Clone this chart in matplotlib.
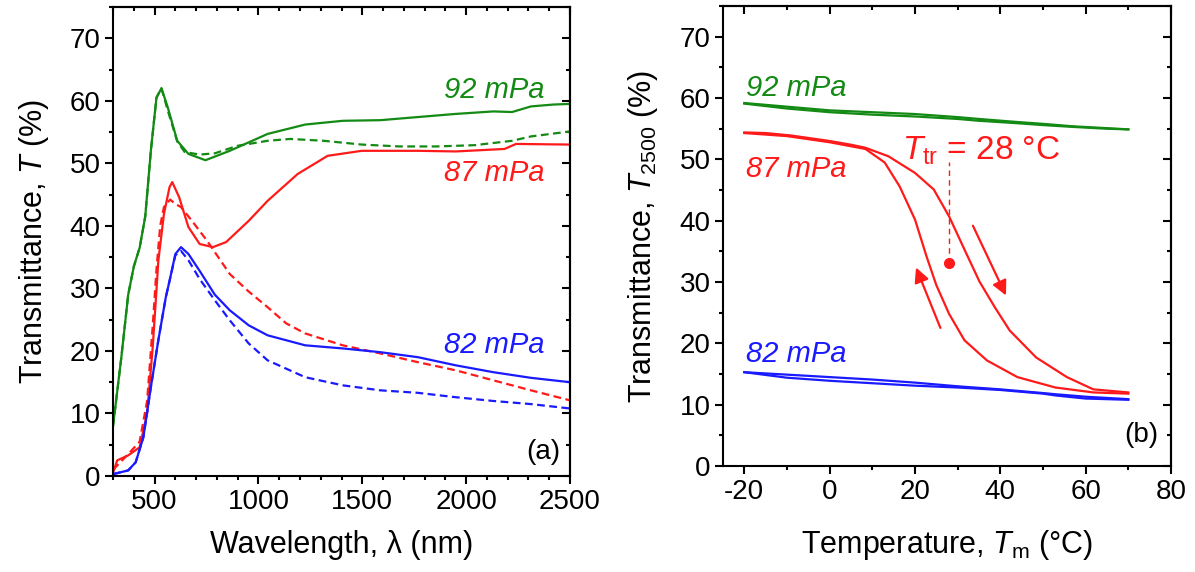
import matplotlib
matplotlib.use('Agg')
import matplotlib.pyplot as plt
from matplotlib.ticker import MultipleLocator

plt.rcParams['font.family'] = ['Liberation Sans', 'DejaVu Sans']
plt.rcParams['mathtext.fontset'] = 'custom'
plt.rcParams['mathtext.rm'] = 'Liberation Sans'
plt.rcParams['mathtext.it'] = 'Liberation Sans:italic'
plt.rcParams['axes.unicode_minus'] = False

GREEN = '#138a13'
RED = '#ff1a1a'
BLUE = '#1a1aff'

# ---- panel (a): spectra ----
g_sol_x = [300, 340, 373, 400, 428, 455, 482, 509, 533, 563, 609, 663, 745, 862, 1044,
           1225, 1406, 1587, 1768, 1950, 2131, 2221, 2312, 2420, 2500]
g_sol_y = [8, 19, 29, 33.5, 36.5, 41.5, 52, 60.5, 62, 59, 53.6, 51.5, 50.5, 52, 54.7,
           56.2, 56.8, 56.9, 57.4, 57.9, 58.3, 58.2, 59.1, 59.4, 59.5]
g_das_x = [300, 340, 373, 400, 428, 455, 482, 509, 533, 563, 609, 645, 717, 790, 899,
           1044, 1153, 1316, 1497, 1678, 1859, 2040, 2221, 2312, 2500]
g_das_y = [8, 19, 29, 33.5, 36.5, 41.5, 52, 60.5, 62, 58.5, 53.5, 51.8, 51.4, 51.6, 52.8,
           53.6, 53.9, 53.6, 53, 52.7, 52.7, 52.9, 53.6, 54.3, 55.1]

r_sol_x = [300, 320, 373, 428, 464, 491, 509, 518, 545, 572, 585, 618, 663, 717, 781,
           844, 953, 1044, 1189, 1333, 1497, 1768, 1950, 2185, 2240, 2500]
r_sol_y = [0.5, 2.5, 3.3, 4.6, 10, 20.6, 29.7, 34.4, 41.9, 46.2, 47, 44.6, 39.8, 37.1, 36.6,
           37.4, 40.8, 44, 48.3, 51.2, 52, 52, 51.9, 52.3, 53.1, 53]
r_das_x = [300, 373, 428, 464, 491, 509, 527, 545, 575, 600, 627, 680, 753, 862, 953,
           1044, 1134, 1225, 1406, 1587, 1768, 1950, 2131, 2312, 2500]
r_das_y = [1, 3.5, 5.5, 12, 24, 33, 40, 43, 44.2, 43.5, 43, 40.8, 37.6, 32.3, 29.5,
           27, 24.4, 22.8, 20.9, 19.6, 18.2, 16.9, 15.3, 13.7, 12.1]

b_sol_x = [300, 373, 409, 446, 482, 518, 554, 572, 600, 627, 663, 717, 790, 862, 953,
           1044, 1225, 1406, 1587, 1768, 1950, 2131, 2312, 2500]
b_sol_y = [0.3, 0.9, 2.2, 6.2, 14.2, 21.7, 28.6, 31.2, 35.5, 36.6, 35.5, 32.8, 29, 26.5, 24.1,
           22.5, 20.9, 20.4, 19.8, 19, 17.7, 16.6, 15.7, 15]
b_das_x = [300, 373, 409, 446, 482, 518, 554, 572, 600, 627, 663, 717, 790, 862, 953,
           1044, 1225, 1406, 1587, 1768, 1950, 2131, 2312, 2500]
b_das_y = [0.3, 0.9, 2.2, 6.2, 14.2, 21.7, 28.6, 31.2, 35.3, 36, 34.5, 31.5, 28.1, 24.9, 21.2,
           18.5, 15.8, 14.5, 13.7, 13.3, 12.6, 12, 11.5, 10.8]

# ---- panel (b): T2500 vs temperature ----
g_t = [-20, -10, 0, 10, 20, 30, 35, 44, 50, 57, 65, 70]
g_heat = [59.2, 58.6, 58.0, 57.7, 57.4, 56.9, 56.6, 56.1, 55.8, 55.4, 55.1, 54.9]
g_cool = [59.1, 58.3, 57.7, 57.3, 57.0, 56.6, 56.3, 55.9, 55.6, 55.3, 55.0, 54.9]

r_heat_t = [-20, -15, -9, 0, 5, 8.4, 13.8, 20, 24.4, 28, 31.6, 35.1, 38.7, 42.2, 48.4, 55.6, 61.8, 70]
r_heat = [54.4, 54.3, 53.9, 53, 52.4, 51.9, 50.5, 47.8, 45.1, 40.7, 35.3, 30.1, 25.9, 22.1, 17.7, 14.5, 12.5, 12.0]
r_cool_t = [70, 61.8, 52.9, 44, 36.9, 31.6, 28, 25, 22.7, 20, 16.4, 12.9, 8.4, 0, -10, -20]
r_cool = [11.8, 12.0, 12.8, 14.5, 17.2, 20.5, 24.8, 29.5, 34.2, 40.2, 45.6, 49.5, 51.7, 52.8, 53.8, 54.3]

b_t = [-20, -10, 0, 10, 20, 30, 40, 50, 53, 60, 70]
b_heat = [15.3, 14.9, 14.5, 14.1, 13.6, 13.0, 12.5, 11.9, 11.7, 11.3, 10.9]
b_cool = [15.3, 14.4, 13.9, 13.5, 13.1, 12.8, 12.4, 11.8, 11.5, 11.0, 10.8]

t_tr = 28
t_tr_val = 33.1

fig = plt.figure(figsize=(11.95, 5.72), dpi=100)
ax1 = fig.add_axes([0.0946, 0.1678, 0.3824, 0.82])
ax2 = fig.add_axes([0.605, 0.1853, 0.3749, 0.804])

lw = 1.6
dash = (3.5, 2)
ax1.plot(g_sol_x, g_sol_y, color=GREEN, lw=lw)
ax1.plot(g_das_x, g_das_y, color=GREEN, lw=lw, ls='--', dashes=dash)
ax1.plot(r_sol_x, r_sol_y, color=RED, lw=lw)
ax1.plot(r_das_x, r_das_y, color=RED, lw=lw, ls='--', dashes=dash)
ax1.plot(b_sol_x, b_sol_y, color=BLUE, lw=lw)
ax1.plot(b_das_x, b_das_y, color=BLUE, lw=lw, ls='--', dashes=dash)

fs_lab = 21
ax1.text(2375, 61.7, '92 mPa', color=GREEN, style='italic', fontsize=fs_lab, ha='right', va='center')
ax1.text(2375, 48.4, '87 mPa', color=RED, style='italic', fontsize=fs_lab, ha='right', va='center')
ax1.text(2375, 20.9, '82 mPa', color=BLUE, style='italic', fontsize=fs_lab, ha='right', va='center')
ax1.text(0.978, 0.051, '(a)', transform=ax1.transAxes, fontsize=20, ha='right', va='center')

ax1.set_xlim(300, 2500)
ax1.set_ylim(0, 75)
ax1.xaxis.set_major_locator(MultipleLocator(500))
ax1.xaxis.set_minor_locator(MultipleLocator(100))
ax1.set_xlabel('Wavelength, λ (nm)', fontsize=22)
ax1.set_ylabel(r'Transmittance, $\mathit{T}$ (%)', fontsize=22)

ax2.plot(g_t, g_heat, color=GREEN, lw=lw)
ax2.plot(g_t, g_cool, color=GREEN, lw=lw)
ax2.plot(b_t, b_heat, color=BLUE, lw=lw)
ax2.plot(b_t, b_cool, color=BLUE, lw=lw)
ax2.plot(r_heat_t, r_heat, color=RED, lw=lw)
ax2.plot(r_cool_t, r_cool, color=RED, lw=lw)

ax2.text(-19.6, 61.7, '92 mPa', color=GREEN, style='italic', fontsize=fs_lab, ha='left', va='center')
ax2.text(-19.6, 48.4, '87 mPa', color=RED, style='italic', fontsize=fs_lab, ha='left', va='center')
ax2.text(-19.6, 18.3, '82 mPa', color=BLUE, style='italic', fontsize=fs_lab, ha='left', va='center')
ax2.text(16.9, 51.4, r'$\mathit{T}_{\mathrm{tr}}$ = 28 °C', color=RED, fontsize=24, ha='left', va='center')
ax2.plot([t_tr, t_tr], [t_tr_val, 49.5], color=RED, lw=1, ls='--', dashes=(4, 3))
ax2.plot([t_tr], [t_tr_val], 'o', color=RED, markersize=7)
ax2.annotate('', xy=(41.6, 27.4), xytext=(33.3, 39.6),
             arrowprops=dict(arrowstyle='-|>', color=RED, lw=1.6, mutation_scale=22))
ax2.annotate('', xy=(20.0, 32.8), xytext=(26.2, 22.1),
             arrowprops=dict(arrowstyle='-|>', color=RED, lw=1.6, mutation_scale=22))
ax2.text(0.971, 0.067, '(b)', transform=ax2.transAxes, fontsize=20, ha='right', va='center')

ax2.set_xlim(-25, 80)
ax2.set_ylim(0, 75)
ax2.xaxis.set_major_locator(MultipleLocator(20))
ax2.xaxis.set_minor_locator(MultipleLocator(10))
ax2.set_xlabel(r'Temperature, $\mathit{T}_{\mathrm{m}}$ (°C)', fontsize=22)
ax2.set_ylabel(r'Transmittance, $\mathit{T}_{2500}$ (%)', fontsize=22)

for ax in (ax1, ax2):
    ax.yaxis.set_major_locator(MultipleLocator(10))
    ax.yaxis.set_minor_locator(MultipleLocator(5))
    for s in ax.spines.values():
        s.set_linewidth(1.5)
    ax.tick_params(which='both', direction='out', width=1.5, labelsize=20, top=False, right=False)
    ax.tick_params(which='major', length=5.5)
    ax.tick_params(which='minor', length=3)
    sx = ax.secondary_xaxis('top')
    sx.set_xticks(ax.get_xticks())
    sx.xaxis.set_minor_locator(ax.xaxis.get_minor_locator())
    sx.tick_params(which='both', direction='in', width=1.5, labeltop=False)
    sx.tick_params(which='major', length=5.5)
    sx.tick_params(which='minor', length=3)
    sy = ax.secondary_yaxis('right')
    sy.set_yticks(ax.get_yticks())
    sy.yaxis.set_minor_locator(ax.yaxis.get_minor_locator())
    sy.tick_params(which='both', direction='in', width=1.5, labelright=False)
    sy.tick_params(which='major', length=5.5)
    sy.tick_params(which='minor', length=3)
    sx.spines['top'].set_linewidth(1.5)
    sy.spines['right'].set_linewidth(1.5)

ax1.yaxis.labelpad = 13
ax2.yaxis.labelpad = 14
ax1.xaxis.labelpad = 11
ax2.xaxis.labelpad = 17

plt.savefig('out.png', dpi=100)
